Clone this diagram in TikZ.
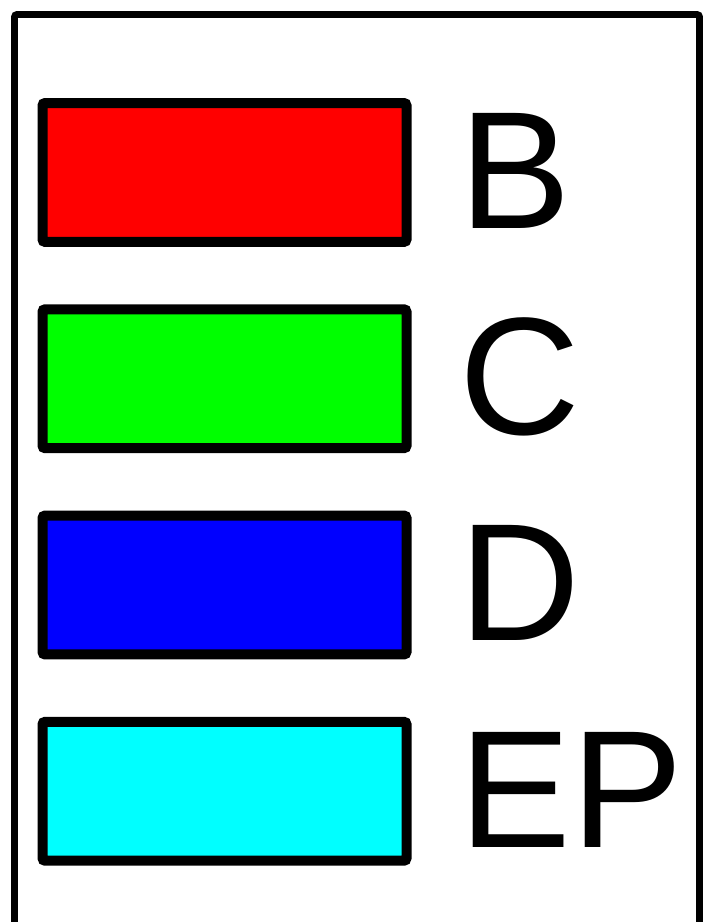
\documentclass[tikz,border=0pt]{standalone}
\usepackage{fontspec}
\setmainfont{Liberation Sans}
\usepackage{tikz}
\usetikzlibrary{positioning, calc}
\definecolor{lgred}{RGB}{255,0,0}
\definecolor{lggreen}{RGB}{0,255,0}
\definecolor{lgblue}{RGB}{0,0,255}
\definecolor{lgcyan}{RGB}{0,255,255}

\begin{document}
\begin{tikzpicture}[
    x=0.75pt, y=0.75pt,
    swatch/.style={rectangle, draw=black, line width=7.5pt, rounded corners=2pt,
        minimum width=273pt, minimum height=104.2pt, inner sep=0pt, outer sep=0pt},
    lbl/.style={anchor=base west, inner sep=0pt, outer sep=0pt,
        font=\fontsize{125.5}{125.5}\selectfont},
    frame/.style={draw=black, line width=5.2pt, rounded corners=2pt}
]
\useasboundingbox (0,0) rectangle (705,-922);

% legend frame, open below the page edge
\draw[frame] (14.5,-960) -- (14.5,-14.5) -- (699.5,-14.5) -- (699.5,-960);

% colour swatches
\node[swatch, fill=lgred, anchor=north west] (sB) at (42.5,-103) {};
\node[swatch, fill=lggreen, below=50.5pt of sB] (sC) {};
\node[swatch, fill=lgblue, below=50.5pt of sC] (sD) {};
\node[swatch, fill=lgcyan, below=50.5pt of sD] (sEP) {};

% labels
\node[lbl] (lB)  at ($(sB.south east)+(53.3,13.7)$)  {B};
\node[lbl] (lC)  at ($(sC.south east)+(53.3,13.7)$)  {C};
\node[lbl] (lD)  at ($(sD.south east)+(53.3,13.7)$)  {D};
\node[lbl] (lEP) at ($(sEP.south east)+(53.3,13.7)$) {EP};
\end{tikzpicture}
\end{document}
